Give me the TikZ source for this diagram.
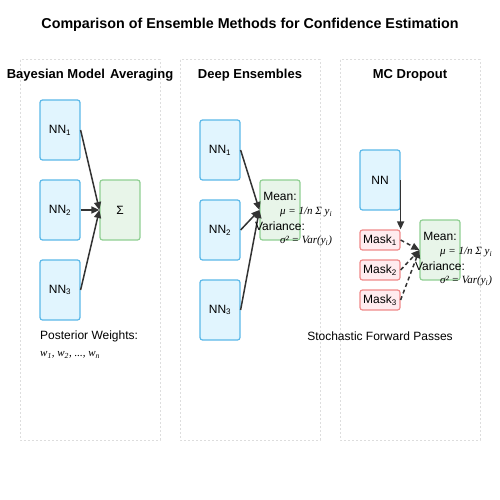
\documentclass[tikz,border=0pt]{standalone}
\usepackage{fontspec}
\setmainfont{Liberation Sans}
\newfontfamily\serifit{Liberation Serif}[ItalicFont=* Italic]
\usetikzlibrary{arrows.meta}
\definecolor{nnfill}{HTML}{E1F5FE}
\definecolor{nnline}{HTML}{5BB8E8}
\definecolor{gfill}{HTML}{E8F5E9}
\definecolor{gline}{HTML}{8FCF92}
\definecolor{rfill}{HTML}{FFEBEE}
\definecolor{rline}{HTML}{EF8A8A}
\definecolor{panelline}{HTML}{DDDDDD}
\definecolor{arr}{HTML}{333333}
\tikzset{
  panel/.style={draw=panelline, line width=1pt, dash pattern=on 2pt off 2pt},
  nnbox/.style={draw=nnline, fill=nnfill, line width=1.2pt, rounded corners=2.5pt, minimum width=40pt, minimum height=60pt, inner sep=0pt, font=\fontsize{12}{14}\selectfont},
  gbox/.style={draw=gline, fill=gfill, line width=1.2pt, rounded corners=2.5pt, minimum width=40pt, minimum height=60pt, inner sep=0pt, font=\fontsize{12}{14}\selectfont},
  maskbox/.style={draw=rline, fill=rfill, line width=1.2pt, rounded corners=2.5pt, minimum width=40pt, minimum height=20pt, inner sep=0pt, font=\fontsize{12}{14}\selectfont},
  conn/.style={draw=arr, line width=1.5pt, -{Triangle[length=8pt,width=7pt]}},
  dconn/.style={conn, dash pattern=on 4pt off 3pt},
  ptitle/.style={font=\bfseries\fontsize{13}{15}\selectfont, inner sep=0pt},
  lbl/.style={font=\fontsize{12}{14}\selectfont, inner sep=0pt},
  mth/.style={font=\serifit\itshape\fontsize{11}{13}\selectfont, inner sep=0pt},
}
\newcommand{\sub}[1]{\textsubscript{#1}}
\begin{document}
\begin{tikzpicture}[x=1pt,y=-1pt]
\useasboundingbox (0,0) rectangle (500,500);
\node[font=\bfseries\fontsize{14.3}{16}\selectfont, inner sep=0pt] (title) at (250,25) {Comparison of Ensemble Methods for Confidence Estimation};
% panels
\draw[panel] (20,60) rectangle (160,440);
\draw[panel] (180,60) rectangle (320,440);
\draw[panel] (340,60) rectangle (480,440);
\node[ptitle] (t1) at (90,75) {Bayesian Model\hspace{1.5pt} Averaging};
\node[ptitle] (t2) at (250,75) {Deep Ensembles};
\node[ptitle] (t3) at (410,75) {MC Dropout};
% panel 1
\node[nnbox] (a1) at (60,130) {NN\sub{1}};
\node[nnbox] (a2) at (60,210) {NN\sub{2}};
\node[nnbox] (a3) at (60,290) {NN\sub{3}};
\node[gbox] (sum) at (120,210) {Σ};
\draw[conn] (a1.east) -- (sum.west);
\draw[conn] (a2.east) -- (sum.west);
\draw[conn] (a3.east) -- (sum.west);
\node[lbl, anchor=west] (pw) at (40,336) {Posterior Weights:};
\node[mth, anchor=west] (ws) at (40,355) {w\sub{1}, w\sub{2}, ..., w\sub{n}};
% panel 2
\node[nnbox] (b1) at (220,150) {NN\sub{1}};
\node[nnbox] (b2) at (220,230) {NN\sub{2}};
\node[nnbox] (b3) at (220,310) {NN\sub{3}};
\node[gbox] (m2) at (280,210) {};
\draw[conn] (b1.east) -- (m2.west);
\draw[conn] (b2.east) -- (m2.west);
\draw[conn] (b3.east) -- (m2.west);
\node[lbl] (m2a) at (280,196) {Mean:};
\node[mth, anchor=west] (m2b) at (280,212) {μ = 1/n Σ y\sub{i}};
\node[lbl] (m2c) at (280,226) {Variance:};
\node[mth, anchor=west] (m2d) at (280,241) {σ² = Var(y\sub{i})};
% panel 3
\node[nnbox] (c0) at (380,180) {NN};
\node[maskbox] (k1) at (380,240) {Mask\sub{1}};
\node[maskbox] (k2) at (380,270) {Mask\sub{2}};
\node[maskbox] (k3) at (380,300) {Mask\sub{3}};
\node[gbox] (m3) at (440,250) {};
\draw[conn] (c0.east) -- (k1.north east);
\draw[dconn] (k1.east) -- (m3.west);
\draw[dconn] (k2.east) -- (m3.west);
\draw[dconn] (k3.east) -- (m3.west);
\node[lbl] (m3a) at (440,236) {Mean:};
\node[mth, anchor=west] (m3b) at (440,252) {μ = 1/n Σ y\sub{i}};
\node[lbl] (m3c) at (440,266) {Variance:};
\node[mth, anchor=west] (m3d) at (440,281) {σ² = Var(y\sub{i})};
\node[lbl] (sfp) at (380,336) {Stochastic Forward Passes};
\end{tikzpicture}
\end{document}
